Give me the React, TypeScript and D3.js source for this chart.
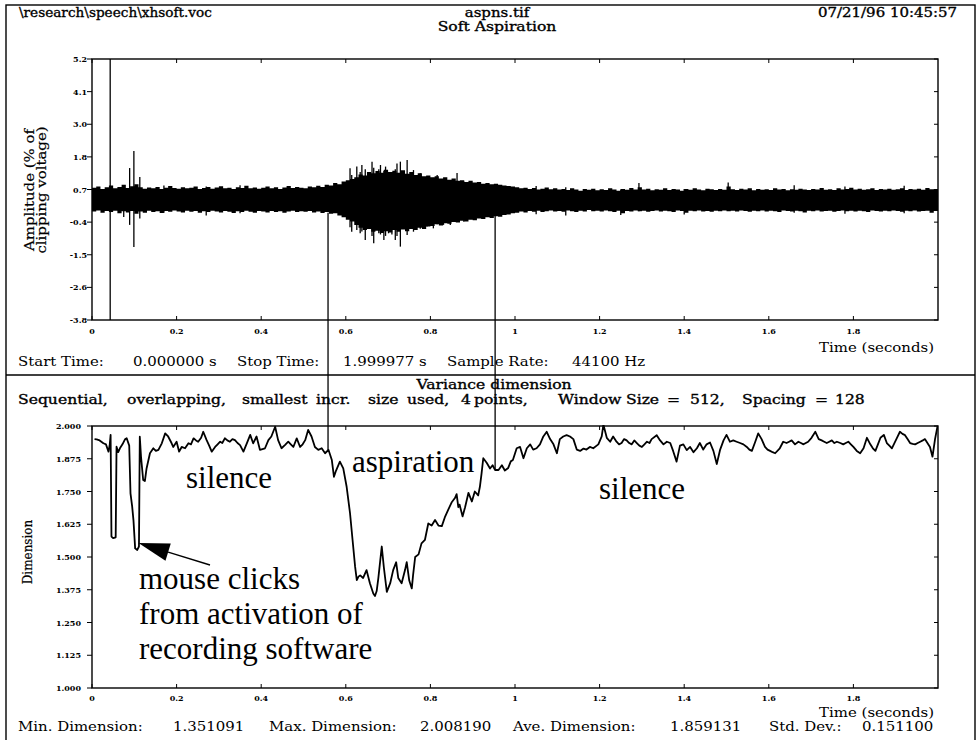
import React from 'react';
import * as d3 from 'd3';

const W = 977;
const H = 740;

// ---- Amplitude panel ----
const ampTickLabels = ['-3.8', '-2.6', '-1.5', '-0.4', '0.7', '1.8', '3.0', '4.1', '5.2'];
const timeTicks = [0, 0.2, 0.4, 0.6, 0.8, 1.0, 1.2, 1.4, 1.6, 1.8];
const timeTickLabels = ['0', '0.2', '0.4', '0.6', '0.8', '1', '1.2', '1.4', '1.6', '1.8'];

// min/max envelope of the waveform, one bin every 10 ms
const envStep = 0.01;
const envHi = [
  0.76, 0.80, 0.72, 0.78, 0.84, 0.74, 0.79, 0.86, 0.75, 0.81,
  0.88, 0.78, 0.73, 0.77, 0.74, 0.79, 0.72, 0.76, 0.82, 0.75,
  0.73, 0.78, 0.74, 0.76, 0.80, 0.72, 0.75, 0.79, 0.73, 0.77,
  0.81, 0.74, 0.76, 0.72, 0.78, 0.75, 0.83, 0.74, 0.77, 0.73,
  0.76, 0.80, 0.74, 0.78, 0.72, 0.77, 0.82, 0.75, 0.79, 0.76,
  0.74, 0.80, 0.78, 0.83, 0.79, 0.86, 0.84, 0.92, 0.88, 0.98,
  1.02, 1.06, 1.12, 1.22, 1.18, 1.30, 1.26, 1.34, 1.28, 1.38,
  1.30, 1.35, 1.28, 1.36, 1.24, 1.30, 1.20, 1.26, 1.16, 1.18,
  1.12, 1.16, 1.08, 1.12, 1.04, 1.08, 1.00, 1.02, 0.96, 1.00,
  0.94, 0.96, 0.90, 0.92, 0.88, 0.90, 0.86, 0.84, 0.82, 0.80,
  0.78, 0.74, 0.76, 0.72, 0.75, 0.70, 0.73, 0.77, 0.71, 0.74,
  0.70, 0.72, 0.68, 0.74, 0.70, 0.66, 0.72, 0.69, 0.73, 0.67,
  0.71, 0.68, 0.74, 0.70, 0.66, 0.72, 0.69, 0.75, 0.70, 0.78,
  0.70, 0.73, 0.67, 0.71, 0.69, 0.74, 0.68, 0.72, 0.70, 0.66,
  0.72, 0.69, 0.74, 0.70, 0.67, 0.73, 0.71, 0.68, 0.72, 0.69,
  0.80, 0.71, 0.68, 0.73, 0.70, 0.74, 0.67, 0.72, 0.69, 0.71,
  0.68, 0.74, 0.70, 0.72, 0.67, 0.71, 0.69, 0.73, 0.70, 0.68,
  0.72, 0.70, 0.75, 0.69, 0.71, 0.68, 0.74, 0.70, 0.72, 0.76,
  0.70, 0.73, 0.69, 0.71, 0.74, 0.68, 0.72, 0.70, 0.73, 0.69,
  0.71, 0.74, 0.68, 0.72, 0.70, 0.73, 0.69, 0.75, 0.71, 0.72,
];
const envLo = [
  -0.06, -0.02, -0.10, -0.04, -0.08, -0.03, -0.12, -0.05, -0.09, -0.04,
  -0.14, -0.06, -0.10, -0.03, -0.08, -0.05, -0.11, -0.04, -0.07, -0.02,
  -0.06, -0.09, -0.03, -0.07, -0.04, -0.10, -0.05, -0.08, -0.03, -0.06,
  -0.09, -0.04, -0.07, -0.11, -0.05, -0.08, -0.03, -0.07, -0.10, -0.04,
  -0.06, -0.09, -0.04, -0.08, -0.05, -0.10, -0.06, -0.03, -0.08, -0.05,
  -0.07, -0.04, -0.09, -0.06, -0.11, -0.08, -0.14, -0.12, -0.20, -0.26,
  -0.34, -0.40, -0.52, -0.62, -0.70, -0.66, -0.76, -0.72, -0.80, -0.74,
  -0.78, -0.70, -0.76, -0.68, -0.74, -0.66, -0.70, -0.62, -0.66, -0.58,
  -0.56, -0.50, -0.54, -0.46, -0.48, -0.42, -0.44, -0.38, -0.40, -0.34,
  -0.36, -0.30, -0.32, -0.26, -0.28, -0.22, -0.24, -0.18, -0.16, -0.12,
  -0.10, -0.06, -0.09, -0.04, -0.07, -0.03, -0.08, -0.05, -0.02, -0.06,
  -0.04, -0.07, -0.02, -0.05, -0.08, -0.03, -0.06, -0.01, -0.05, -0.03,
  -0.06, -0.02, -0.05, -0.08, -0.03, -0.12, -0.04, -0.06, -0.02, -0.05,
  -0.03, -0.07, -0.04, -0.02, -0.06, -0.03, -0.05, -0.08, -0.02, -0.04,
  -0.10, -0.03, -0.05, -0.02, -0.06, -0.04, -0.07, -0.03, -0.05, -0.02,
  -0.05, -0.03, -0.06, -0.02, -0.04, -0.07, -0.03, -0.05, -0.02, -0.06,
  -0.03, -0.05, -0.08, -0.02, -0.04, -0.06, -0.03, -0.05, -0.09, -0.03,
  -0.05, -0.02, -0.06, -0.04, -0.03, -0.07, -0.04, -0.02, -0.05, -0.03,
  -0.06, -0.03, -0.05, -0.08, -0.02, -0.04, -0.06, -0.03, -0.05, -0.02,
  -0.04, -0.07, -0.03, -0.05, -0.02, -0.06, -0.04, -0.03, -0.10, -0.04,
];

// isolated excursions: [time, max, min]
const spikes: [number, number, number][] = [
  [0.043, 5.2, -3.8],
  [0.075, 0.80, -0.25],
  [0.089, 1.44, -0.52],
  [0.099, 2.03, -1.28],
  [0.113, 1.13, -0.30],
  [0.170, 0.84, -0.10],
  [0.270, 0.80, -0.20],
  [0.350, 0.85, -0.12],
  [0.610, 1.43, -0.60],
  [0.614, 1.20, -0.755],
  [0.626, 1.49, -0.70],
  [0.634, 1.30, -0.81],
  [0.638, 1.545, -0.75],
  [0.646, 1.40, -1.04],
  [0.662, 1.66, -0.90],
  [0.666, 1.45, -1.155],
  [0.678, 1.40, -0.81],
  [0.682, 1.545, -0.85],
  [0.690, 1.35, -1.04],
  [0.694, 1.49, -0.90],
  [0.701, 1.30, -0.81],
  [0.709, 1.26, -0.85],
  [0.717, 1.40, -1.04],
  [0.721, 1.60, -0.90],
  [0.729, 1.66, -1.27],
  [0.745, 1.72, -0.87],
  [0.760, 1.37, -0.755],
  [0.776, 1.26, -0.65],
  [0.792, 1.15, -0.58],
  [0.807, 1.10, -0.64],
  [0.816, 1.20, -0.50],
  [0.831, 1.05, -0.52],
  [0.847, 1.00, -0.52],
  [0.863, 1.27, -0.42],
  [0.879, 0.98, -0.41],
  [1.050, 0.82, -0.15],
  [1.120, 0.78, -0.20],
  [1.250, 0.70, -0.18],
  [1.293, 0.92, -0.05],
  [1.400, 0.72, -0.16],
  [1.504, 0.94, -0.04],
  [1.660, 0.85, -0.10],
  [1.780, 0.80, -0.14],
  [1.920, 0.83, -0.12],
];

// ---- Dimension panel ----
const dimTickLabels = ['1.000', '1.125', '1.250', '1.375', '1.500', '1.625', '1.750', '1.875', '2.000'];
const dimT = [
  0.006, 0.011, 0.018, 0.027, 0.033, 0.039, 0.042, 0.044, 0.046, 0.050,
  0.056, 0.058, 0.062, 0.066, 0.072, 0.078, 0.082, 0.088, 0.091, 0.095,
  0.098, 0.102, 0.107, 0.111, 0.113, 0.116, 0.121, 0.125, 0.129, 0.137,
  0.145, 0.151, 0.157, 0.165, 0.173, 0.180, 0.188, 0.192, 0.200, 0.206,
  0.212, 0.220, 0.228, 0.234, 0.240, 0.246, 0.251, 0.258, 0.263, 0.271,
  0.277, 0.283, 0.291, 0.297, 0.303, 0.308, 0.314, 0.320, 0.326, 0.332,
  0.338, 0.344, 0.350, 0.358, 0.366, 0.374, 0.381, 0.389, 0.397, 0.403,
  0.409, 0.417, 0.424, 0.433, 0.440, 0.448, 0.456, 0.464, 0.470, 0.476,
  0.484, 0.492, 0.498, 0.504, 0.511, 0.519, 0.527, 0.535, 0.543, 0.551,
  0.559, 0.567, 0.572, 0.577, 0.586, 0.594, 0.602, 0.610, 0.616, 0.622,
  0.626, 0.630, 0.634, 0.641, 0.649, 0.657, 0.665, 0.669, 0.673, 0.677,
  0.685, 0.690, 0.697, 0.705, 0.712, 0.719, 0.724, 0.732, 0.740, 0.744,
  0.750, 0.756, 0.759, 0.764, 0.772, 0.779, 0.787, 0.795, 0.803, 0.811,
  0.819, 0.827, 0.834, 0.842, 0.850, 0.858, 0.862, 0.866, 0.869, 0.876,
  0.882, 0.890, 0.898, 0.905, 0.913, 0.917, 0.921, 0.925, 0.933, 0.941,
  0.947, 0.953, 0.961, 0.969, 0.976, 0.984, 0.990, 0.995, 1.004, 1.012,
  1.020, 1.028, 1.036, 1.043, 1.051, 1.059, 1.067, 1.075, 1.083, 1.091,
  1.099, 1.106, 1.114, 1.122, 1.130, 1.138, 1.146, 1.154, 1.162, 1.169,
  1.177, 1.185, 1.197, 1.205, 1.209, 1.217, 1.225, 1.232, 1.240, 1.246,
  1.252, 1.258, 1.264, 1.270, 1.276, 1.282, 1.288, 1.294, 1.300, 1.306,
  1.312, 1.318, 1.323, 1.335, 1.343, 1.351, 1.359, 1.367, 1.374, 1.382,
  1.390, 1.398, 1.406, 1.414, 1.422, 1.430, 1.437, 1.445, 1.453, 1.461,
  1.469, 1.477, 1.485, 1.493, 1.500, 1.508, 1.516, 1.524, 1.532, 1.540,
  1.548, 1.554, 1.560, 1.568, 1.575, 1.583, 1.591, 1.597, 1.603, 1.609,
  1.615, 1.626, 1.634, 1.642, 1.648, 1.654, 1.662, 1.670, 1.676, 1.682,
  1.693, 1.701, 1.710, 1.718, 1.725, 1.731, 1.737, 1.743, 1.749, 1.755,
  1.761, 1.769, 1.776, 1.782, 1.788, 1.794, 1.800, 1.808, 1.816, 1.824,
  1.832, 1.840, 1.846, 1.852, 1.858, 1.864, 1.872, 1.879, 1.885, 1.891,
  1.897, 1.903, 1.910, 1.916, 1.922, 1.928, 1.934, 1.940, 1.946, 1.952,
  1.958, 1.964, 1.969, 1.975, 1.981, 1.987, 1.993, 1.999,
];
const dimV = [
  1.950, 1.949, 1.945, 1.934, 1.930, 1.902, 1.930, 1.966, 1.578, 1.572,
  1.575, 1.921, 1.900, 1.915, 1.930, 1.949, 1.953, 1.925, 1.743, 1.692,
  1.641, 1.533, 1.527, 1.540, 1.959, 1.880, 1.794, 1.790, 1.838, 1.896,
  1.915, 1.905, 1.909, 1.934, 1.972, 1.960, 1.935, 1.920, 1.940, 1.902,
  1.920, 1.915, 1.934, 1.930, 1.953, 1.945, 1.940, 1.955, 1.978, 1.946,
  1.925, 1.902, 1.920, 1.930, 1.940, 1.935, 1.953, 1.945, 1.940, 1.950,
  1.946, 1.935, 1.927, 1.902, 1.934, 1.966, 1.934, 1.960, 1.909, 1.912,
  1.915, 1.946, 1.960, 1.997, 1.946, 1.915, 1.927, 1.940, 1.930, 1.920,
  1.953, 1.920, 1.930, 1.946, 1.985, 1.960, 1.920, 1.909, 1.915, 1.896,
  1.909, 1.870, 1.806, 1.830, 1.864, 1.838, 1.768, 1.667, 1.565, 1.463,
  1.412, 1.425, 1.430, 1.420, 1.450, 1.400, 1.361, 1.351, 1.370, 1.420,
  1.540, 1.460, 1.367, 1.400, 1.450, 1.480, 1.420, 1.400, 1.450, 1.480,
  1.410, 1.380, 1.430, 1.500, 1.510, 1.552, 1.565, 1.628, 1.620, 1.641,
  1.620, 1.618, 1.651, 1.680, 1.708, 1.725, 1.740, 1.690, 1.700, 1.655,
  1.690, 1.745, 1.712, 1.750, 1.735, 1.768, 1.819, 1.877, 1.860, 1.838,
  1.850, 1.832, 1.832, 1.850, 1.830, 1.840, 1.865, 1.870, 1.915, 1.920,
  1.877, 1.915, 1.930, 1.910, 1.915, 1.930, 1.960, 1.978, 1.950, 1.930,
  1.896, 1.950, 1.960, 1.965, 1.960, 1.950, 1.910, 1.905, 1.914, 1.910,
  1.920, 1.915, 1.930, 1.960, 2.005, 1.955, 1.940, 1.960, 1.940, 1.930,
  1.935, 1.950, 1.945, 1.935, 1.930, 1.945, 1.935, 1.925, 1.920, 1.930,
  1.940, 1.935, 1.950, 1.965, 1.945, 1.930, 1.940, 1.935, 1.904, 1.864,
  1.925, 1.930, 1.908, 1.920, 1.900, 1.915, 1.935, 1.910, 1.930, 1.937,
  1.905, 1.855, 1.910, 1.945, 1.966, 1.940, 1.945, 1.940, 1.935, 1.930,
  1.920, 1.910, 1.905, 1.940, 1.972, 1.950, 1.920, 1.910, 1.905, 1.900,
  1.896, 1.915, 1.940, 1.935, 1.940, 1.945, 1.930, 1.940, 1.935, 1.930,
  1.940, 1.955, 1.978, 1.950, 1.945, 1.940, 1.935, 1.940, 1.945, 1.935,
  1.940, 1.935, 1.930, 1.935, 1.940, 1.930, 1.920, 1.905, 1.896, 1.915,
  1.955, 1.930, 1.915, 1.905, 1.930, 1.955, 1.966, 1.935, 1.925, 1.915,
  1.935, 1.955, 1.978, 1.970, 1.965, 1.950, 1.935, 1.932, 1.930, 1.935,
  1.940, 1.945, 1.950, 1.935, 1.920, 1.883, 1.950, 2.000,
];

// aspiration boundaries drawn across both panels
const markerTimes = [0.558, 0.953];

// ---- text rows ----
const headerLeft = '\\research\\speech\\xhsoft.voc';
const headerMid = 'aspns.tif';
const headerRight = '07/21/96 10:45:57';
const title = 'Soft Aspiration';
const infoTop = ['Start Time:', '0.000000 s', 'Stop Time:', '1.999977 s', 'Sample Rate:', '44100 Hz'];
const infoTopX = [18, 133, 237, 343, 447, 572];
const lowerTitle = 'Variance dimension';
const paramRow = [
  'Sequential,', 'overlapping,', 'smallest', 'incr.', 'size', 'used,', '4', 'points,',
  'Window', 'Size', '=', '512,', 'Spacing', '=', '128',
];
const paramRowX = [18, 127, 242, 316, 368, 407, 461, 474, 558, 626, 667, 690, 742, 815, 835];
const statRow = [
  'Min. Dimension:', '1.351091', 'Max. Dimension:', '2.008190',
  'Ave. Dimension:', '1.859131', 'Std. Dev.:', '0.151100',
];
const statRowX = [18, 173, 269, 420, 513, 670, 769, 862];

const FONT = 'DejaVu Serif, serif';
const NOTE_FONT = 'Liberation Serif, Times New Roman, serif';

// horizontally widened text, anchored at (x, y)
function Wide({
  x, y, sx = 1.15, anchor = 'start', size = 13, weight = 'normal', heavy = 0, children,
}: {
  x: number; y: number; sx?: number; anchor?: string; size?: number; weight?: string;
  heavy?: number; children: React.ReactNode;
}) {
  return (
    <text
      transform={`translate(${x},${y}) scale(${sx},1)`}
      textAnchor={anchor}
      fontSize={size}
      fontWeight={weight}
      fontFamily={FONT}
      fill="#000"
      stroke={heavy ? '#000' : 'none'}
      strokeWidth={heavy}
    >
      {children}
    </text>
  );
}

export default function App() {
  const left = 92;
  const right = 938;
  const top1 = 59;
  const bot1 = 320;
  const top2 = 426;
  const bot2 = 688;

  const x = d3.scaleLinear().domain([0, 2]).range([left, right]);
  const yAmp = d3.scaleLinear().domain([-3.8, 5.2]).range([bot1, top1]);
  const yDim = d3.scaleLinear().domain([1.0, 2.0]).range([bot2, top2]);

  const ampTickVals = ampTickLabels.map((_, i) => -3.8 + (i * 9) / 8);
  const dimTickVals = dimTickLabels.map((_, i) => 1 + i * 0.125);

  const envIdx = d3.range(envHi.length + 1);
  const envArea = d3
    .area<number>()
    .curve(d3.curveStepAfter)
    .x((i) => x(i * envStep))
    .y0((i) => yAmp(envLo[Math.min(i, envLo.length - 1)]))
    .y1((i) => yAmp(envHi[Math.min(i, envHi.length - 1)]));

  const dimLine = d3
    .line<number>()
    .x((i) => x(dimT[i]))
    .y((i) => yDim(dimV[i]));

  const dimAt = (t: number) => {
    const i = d3.bisectLeft(dimT, t);
    if (i <= 0) return dimV[0];
    if (i >= dimT.length) return dimV[dimV.length - 1];
    const f = (t - dimT[i - 1]) / (dimT[i] - dimT[i - 1]);
    return dimV[i - 1] + f * (dimV[i] - dimV[i - 1]);
  };

  // arrow from the note to the click dip
  const tip: [number, number] = [138.5, 543];
  const tail: [number, number] = [210, 565];
  const dx = tail[0] - tip[0];
  const dy = tail[1] - tip[1];
  const len = Math.hypot(dx, dy);
  const ux = dx / len;
  const uy = dy / len;
  const headLen = 31;
  const headHalf = 9;
  const bx = tip[0] + ux * headLen;
  const by = tip[1] + uy * headLen;
  const head = [
    [tip[0], tip[1]],
    [bx - uy * headHalf, by + ux * headHalf],
    [bx + uy * headHalf, by - ux * headHalf],
  ];

  const axisFrame = (top: number, bottom: number) => (
    <g>
      <rect x={left} y={top} width={right - left} height={bottom - top} fill="none" stroke="#000" strokeWidth={1.4} />
      {timeTicks.map((t) => (
        <g key={t}>
          <line x1={x(t)} x2={x(t)} y1={bottom} y2={bottom - 4} stroke="#000" strokeWidth={1} />
          <line x1={x(t)} x2={x(t)} y1={top} y2={top + 4} stroke="#000" strokeWidth={1} />
        </g>
      ))}
    </g>
  );

  return (
    <svg
      width={W}
      height={H}
      viewBox={`0 0 ${W} ${H}`}
      style={{ position: 'absolute', left: 0, top: 0, background: '#fff' }}
    >
      <defs>
        <clipPath id="clipAmp">
          <rect x={left} y={top1} width={right - left} height={bot1 - top1} />
        </clipPath>
        <clipPath id="clipDim">
          <rect x={left} y={top2 - 1} width={right - left} height={bot2 - top2 + 1} />
        </clipPath>
      </defs>
      <rect x={0} y={0} width={W} height={H} fill="#fff" />

      {/* outer frame and panel divider */}
      <rect x={6} y={5} width={969} height={740} fill="none" stroke="#000" strokeWidth={1.4} />
      <line x1={6} x2={975} y1={375} y2={375} stroke="#000" strokeWidth={1.4} />

      {/* header */}
      <Wide x={19} y={17} sx={1.05} heavy={0.35}>{headerLeft}</Wide>
      <Wide x={497} y={17} sx={1.15} anchor="middle" heavy={0.35}>{headerMid}</Wide>
      <Wide x={957} y={17} sx={1.15} anchor="end" heavy={0.35}>{headerRight}</Wide>
      <Wide x={497} y={31} sx={1.2} anchor="middle" heavy={0.35}>{title}</Wide>

      {/* amplitude panel */}
      <g clipPath="url(#clipAmp)">
        <path d={envArea(envIdx) || ''} fill="#000" />
        {spikes.map(([t, hi, lo], i) => (
          <line key={i} x1={x(t)} x2={x(t)} y1={yAmp(hi)} y2={yAmp(lo)} stroke="#000" strokeWidth={1.3} />
        ))}
      </g>
      {axisFrame(top1, bot1)}
      <g fontFamily={FONT} fontSize={8} fontWeight="bold" fill="#000">
        {ampTickVals.map((v, i) => (
          <g key={i}>
            <line x1={left - 5} x2={left} y1={yAmp(v)} y2={yAmp(v)} stroke="#000" strokeWidth={1} />
            <line x1={right} x2={right - 4} y1={yAmp(v)} y2={yAmp(v)} stroke="#000" strokeWidth={1} />
            <text x={87} y={yAmp(v) + 3} textAnchor="end">{ampTickLabels[i]}</text>
          </g>
        ))}
        {timeTicks.map((t, i) => (
          <text key={t} x={x(t)} y={334} textAnchor="middle">{timeTickLabels[i]}</text>
        ))}
      </g>
      <g transform="translate(34,190) rotate(-90)">
        <Wide x={0} y={0} anchor="middle" heavy={0.2}>Amplitude (% of</Wide>
      </g>
      <g transform="translate(46,190) rotate(-90)">
        <Wide x={0} y={0} anchor="middle" heavy={0.2}>clipping voltage)</Wide>
      </g>
      <Wide x={934} y={352} anchor="end">Time (seconds)</Wide>
      {infoTop.map((s, i) => (
        <Wide key={s} x={infoTopX[i]} y={366}>{s}</Wide>
      ))}

      {/* dimension panel */}
      <Wide x={494} y={389} sx={1.2} anchor="middle" heavy={0.35}>{lowerTitle}</Wide>
      {paramRow.map((s, i) => (
        <Wide key={i} x={paramRowX[i]} y={404} sx={1.2} heavy={0.35}>{s}</Wide>
      ))}
      {axisFrame(top2, bot2)}
      <g clipPath="url(#clipDim)">
        <path d={dimLine(d3.range(dimT.length)) || ''} fill="none" stroke="#000" strokeWidth={1.8} strokeLinejoin="round" />
      </g>
      <g fontFamily={FONT} fontSize={8} fontWeight="bold" fill="#000">
        {dimTickVals.map((v, i) => (
          <g key={i}>
            <line x1={left - 5} x2={left} y1={yDim(v)} y2={yDim(v)} stroke="#000" strokeWidth={1} />
            <line x1={right} x2={right - 4} y1={yDim(v)} y2={yDim(v)} stroke="#000" strokeWidth={1} />
            <text x={81} y={yDim(v) + 3} textAnchor="end">{dimTickLabels[i]}</text>
          </g>
        ))}
        {timeTicks.map((t, i) => (
          <text key={t} x={x(t)} y={701} textAnchor="middle">{timeTickLabels[i]}</text>
        ))}
      </g>
      <g transform="translate(32,552) rotate(-90)">
        <Wide x={0} y={0} sx={1} size={12} anchor="middle" heavy={0.2}>Dimension</Wide>
      </g>
      <Wide x={934} y={717} anchor="end">Time (seconds)</Wide>
      {statRow.map((s, i) => (
        <Wide key={s} x={statRowX[i]} y={731}>{s}</Wide>
      ))}

      {/* aspiration boundary markers */}
      {markerTimes.map((t) => (
        <line key={t} x1={x(t)} x2={x(t)} y1={yAmp(-0.1)} y2={yDim(dimAt(t))} stroke="#000" strokeWidth={1.3} />
      ))}

      {/* annotations */}
      <g fontFamily={NOTE_FONT} fontSize={31} fill="#000">
        <text x={186} y={488}>silence</text>
        <text x={352} y={472}>aspiration</text>
        <text x={599} y={499}>silence</text>
        <text x={139} y={589}>mouse clicks</text>
        <text x={139} y={624}>from activation of</text>
        <text x={139} y={659}>recording software</text>
      </g>
      <line x1={tail[0]} y1={tail[1]} x2={bx} y2={by} stroke="#000" strokeWidth={1.4} />
      <polygon points={head.map((p) => p.join(',')).join(' ')} fill="#000" />
    </svg>
  );
}
